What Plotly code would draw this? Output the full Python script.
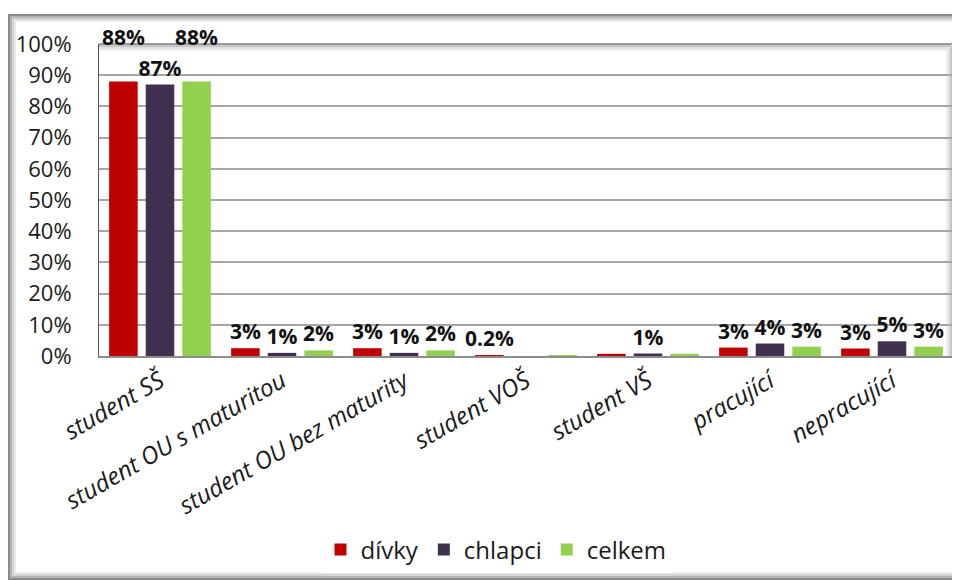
import plotly.graph_objects as go

categories = ["student SŠ", "student OU s maturitou", "student OU bez maturity",
              "student VOŠ", "student VŠ", "pracující", "nepracující"]

divky = [88, 2.5, 2.5, 0.2, 0.7, 2.7, 2.4]
chlapci = [87, 1.0, 1.0, 0.0, 0.8, 4.0, 4.7]
celkem = [88, 1.8, 1.8, 0.3, 0.7, 3.0, 3.0]

# "<br> " lifts a label by one line, like Excel did to avoid overlaps
divky_lbl = ["88%<br> ", "3%", "3%", "0.2%", "", "3%", "3%"]
chlapci_lbl = ["87%", "1%", "1%", "", "1%", "4%", "5%"]
celkem_lbl = ["88%<br> ", "2%", "2%", "", "", "3%", "3%"]

# the page body has an 8px margin, so the figure is drawn 8px in
OFF = 8
W, H = 960 - OFF, 580 - OFF
L, R, T, B = 99 - OFF, 7, 44 - OFF, 224
pw, ph = W - L - R, H - T - B


def px(x):
    return (x - OFF - L) / pw


def py(y):
    return (H - B - (y - OFF)) / ph


series = [
    ("dívky", divky, divky_lbl, "#C00000"),
    ("chlapci", chlapci, chlapci_lbl, "#403151"),
    ("celkem", celkem, celkem_lbl, "#92D050"),
]

fig = go.Figure()
for name, vals, lbl, col in series:
    fig.add_trace(go.Bar(
        x=categories, y=vals, name=name, marker=dict(color=col, line=dict(width=0)),
        text=lbl, textposition="outside", constraintext="none", cliponaxis=False,
        textfont=dict(family="Open Sans", size=21, color="#111111", weight="bold"),
    ))

shapes = []
# outer chart frame with a soft shadow
for i, c in enumerate(["#8a8a8a", "#b4b4b4", "#d4d4d4", "#eaeaea"]):
    shapes.append(dict(type="rect", xref="paper", yref="paper",
                       x0=px(9 + i * 2), x1=px(959 - i * 2), y0=py(579 - i * 2), y1=py(15 + i * 2),
                       line=dict(color=c, width=2), layer="below"))
# plot area frame shading (top and right)
for i, c in enumerate(["#9a9a9a", "#c6c6c6", "#e0e0e0", "#f0f0f0"]):
    shapes.append(dict(type="line", xref="paper", yref="paper",
                       x0=0, x1=px(953 - i * 2), y0=py(44 + i * 2), y1=py(44 + i * 2),
                       line=dict(color=c, width=2), layer="below"))
    shapes.append(dict(type="line", xref="paper", yref="paper",
                       x0=px(953 - i * 2), x1=px(953 - i * 2), y0=0, y1=py(44 + i * 2),
                       line=dict(color=c, width=2), layer="below"))

fig.update_layout(
    width=W, height=H,
    margin=dict(l=L, r=R, t=T, b=B),
    paper_bgcolor="white", plot_bgcolor="white",
    barmode="group", bargap=0.10, bargroupgap=0.22,
    font=dict(family="Open Sans", color="#1a1a1a"),
    shapes=shapes,
    showlegend=True,
    legend=dict(orientation="h", x=px(496), xanchor="center", y=py(550), yanchor="middle",
                font=dict(size=24, color="#1a1a1a"), itemwidth=30, traceorder="normal"),
)
fig.update_yaxes(range=[0, 100], dtick=10, ticksuffix="%", showgrid=True,
                 gridcolor="#a6a6a6", gridwidth=1.5, tickfont=dict(size=22, color="#1a1a1a"),
                 showline=True, linecolor="#555555", linewidth=1, zeroline=False,
                 ticks="", ticklabelstandoff=22, automargin=False)
fig.update_xaxes(tickangle=-30, tickfont=dict(size=24, color="#1a1a1a", style="italic"),
                 showline=True, linecolor="#8c8c8c", linewidth=2, ticks="", automargin=False)

fig.write_html("out.html")
